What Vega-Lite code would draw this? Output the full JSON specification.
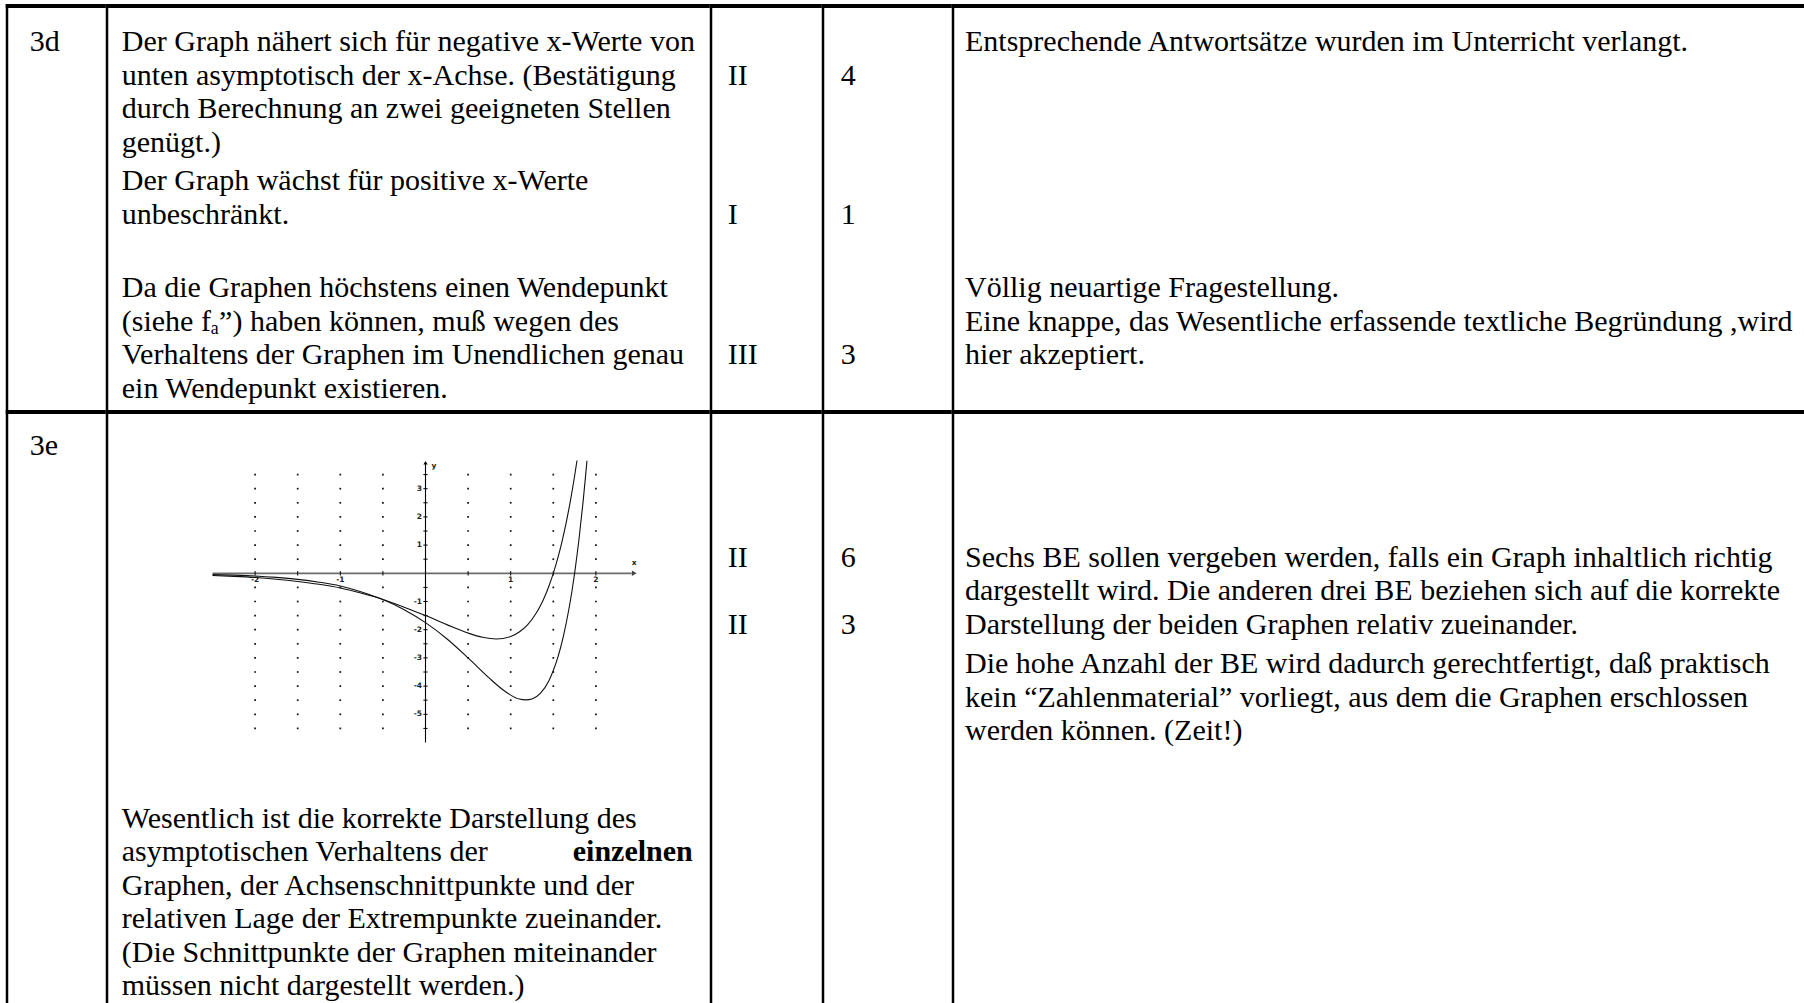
{
  "$schema": "https://vega.github.io/schema/vega-lite/v6.json",
  "background": "white",
  "padding": {"left": 5.75, "top": 4, "right": 0, "bottom": 0},
  "autosize": {"type": "pad"},
  "config": {
    "view": {"stroke": null},
    "rect": {"color": "#000000"},
    "text": {"font": "Liberation Serif", "fontSize": 30, "align": "left", "baseline": "middle", "color": "#000000"}
  },
  "spacing": 0,
  "vconcat": [
    {
      "spacing": 0,
      "bounds": "flush",
      "hconcat": [
        {
          "width": 100, "height": 406,
          "data": {"values": [{"line": 0, "text": "3d"}]},
          "layer": [
            {"data": {"values": [{}]}, "mark": "rect", "encoding": {"x": {"value": 0}, "x2": {"value": 100}, "y": {"value": 0}, "y2": {"value": 4}}},
            {"data": {"values": [{}]}, "mark": "rect", "encoding": {"x": {"value": 0}, "x2": {"value": 2.5}, "y": {"value": 0}, "y2": {"value": 406}}},
            {"mark": "text", "encoding": {"x": {"value": 24}, "y": {"field": "line", "type": "quantitative", "scale": {"domain": [0, 10], "range": [38, 373], "nice": false, "zero": false}, "axis": null}, "text": {"field": "text"}}}
          ]
        },
        {
          "width": 604, "height": 406,
          "data": {"values": [
            {"line": 0, "text": "Der Graph nähert sich für negative x-Werte von"},
            {"line": 1, "text": "unten asymptotisch der x-Achse. (Bestätigung"},
            {"line": 2, "text": "durch Berechnung an zwei geeigneten Stellen"},
            {"line": 3, "text": "genügt.)"},
            {"line": 4.15, "text": "Der Graph wächst für positive x-Werte"},
            {"line": 5.15, "text": "unbeschränkt."},
            {"line": 7.35, "text": "Da die Graphen höchstens einen Wendepunkt"},
            {"line": 8.35, "text": "(siehe fₐ”) haben können, muß wegen des"},
            {"line": 9.35, "text": "Verhaltens der Graphen im Unendlichen genau"},
            {"line": 10.35, "text": "ein Wendepunkt existieren."}
          ]},
          "layer": [
            {"data": {"values": [{}]}, "mark": "rect", "encoding": {"x": {"value": 0}, "x2": {"value": 604}, "y": {"value": 0}, "y2": {"value": 4}}},
            {"data": {"values": [{}]}, "mark": "rect", "encoding": {"x": {"value": 0}, "x2": {"value": 2.5}, "y": {"value": 0}, "y2": {"value": 406}}},
            {"mark": {"type": "text", "limit": 585}, "encoding": {"x": {"value": 16}, "y": {"field": "line", "type": "quantitative", "scale": {"domain": [0, 10], "range": [38, 373], "nice": false, "zero": false}, "axis": null}, "text": {"field": "text"}}}
          ]
        },
        {
          "width": 112, "height": 406,
          "data": {"values": [{"line": 1, "text": "II"}, {"line": 5.15, "text": "I"}, {"line": 9.35, "text": "III"}]},
          "layer": [
            {"data": {"values": [{}]}, "mark": "rect", "encoding": {"x": {"value": 0}, "x2": {"value": 112}, "y": {"value": 0}, "y2": {"value": 4}}},
            {"data": {"values": [{}]}, "mark": "rect", "encoding": {"x": {"value": 0}, "x2": {"value": 2.5}, "y": {"value": 0}, "y2": {"value": 406}}},
            {"mark": "text", "encoding": {"x": {"value": 18}, "y": {"field": "line", "type": "quantitative", "scale": {"domain": [0, 10], "range": [38, 373], "nice": false, "zero": false}, "axis": null}, "text": {"field": "text"}}}
          ]
        },
        {
          "width": 130, "height": 406,
          "data": {"values": [{"line": 1, "text": "4"}, {"line": 5.15, "text": "1"}, {"line": 9.35, "text": "3"}]},
          "layer": [
            {"data": {"values": [{}]}, "mark": "rect", "encoding": {"x": {"value": 0}, "x2": {"value": 130}, "y": {"value": 0}, "y2": {"value": 4}}},
            {"data": {"values": [{}]}, "mark": "rect", "encoding": {"x": {"value": 0}, "x2": {"value": 2.5}, "y": {"value": 0}, "y2": {"value": 406}}},
            {"mark": "text", "encoding": {"x": {"value": 19}, "y": {"field": "line", "type": "quantitative", "scale": {"domain": [0, 10], "range": [38, 373], "nice": false, "zero": false}, "axis": null}, "text": {"field": "text"}}}
          ]
        },
        {
          "width": 852.25, "height": 406,
          "data": {"values": [
            {"line": 0, "text": "Entsprechende Antwortsätze wurden im Unterricht verlangt."},
            {"line": 7.35, "text": "Völlig neuartige Fragestellung."},
            {"line": 8.35, "text": "Eine knappe, das Wesentliche erfassende textliche Begründung ,wird"},
            {"line": 9.35, "text": "hier akzeptiert."}
          ]},
          "layer": [
            {"data": {"values": [{}]}, "mark": "rect", "encoding": {"x": {"value": 0}, "x2": {"value": 852.25}, "y": {"value": 0}, "y2": {"value": 4}}},
            {"data": {"values": [{}]}, "mark": "rect", "encoding": {"x": {"value": 0}, "x2": {"value": 2.5}, "y": {"value": 0}, "y2": {"value": 406}}},
            {"mark": {"type": "text", "limit": 834}, "encoding": {"x": {"value": 13.25}, "y": {"field": "line", "type": "quantitative", "scale": {"domain": [0, 10], "range": [38, 373], "nice": false, "zero": false}, "axis": null}, "text": {"field": "text"}}}
          ]
        }
      ]
    },
    {
      "spacing": 0,
      "bounds": "flush",
      "hconcat": [
        {
          "width": 100, "height": 593,
          "data": {"values": [{"line": 0, "text": "3e"}]},
          "layer": [
            {"data": {"values": [{}]}, "mark": "rect", "encoding": {"x": {"value": 0}, "x2": {"value": 100}, "y": {"value": 0}, "y2": {"value": 4}}},
            {"data": {"values": [{}]}, "mark": "rect", "encoding": {"x": {"value": 0}, "x2": {"value": 2.5}, "y": {"value": 0}, "y2": {"value": 593}}},
            {"mark": "text", "encoding": {"x": {"value": 24}, "y": {"field": "line", "type": "quantitative", "scale": {"domain": [0, 10], "range": [36, 371], "nice": false, "zero": false}, "axis": null}, "text": {"field": "text"}}}
          ]
        },
        {
          "width": 604, "height": 593,
          "resolve": {"scale": {"x": "independent", "y": "independent"}},
          "layer": [
            {"data": {"values": [{}]}, "mark": "rect", "encoding": {"x": {"value": 0}, "x2": {"value": 604}, "y": {"value": 0}, "y2": {"value": 4}}},
            {"data": {"values": [{}]}, "mark": "rect", "encoding": {"x": {"value": 0}, "x2": {"value": 2.5}, "y": {"value": 0}, "y2": {"value": 593}}},
            {
              "data": {"values": [
                {"line": 11.13, "text": "Wesentlich ist die korrekte Darstellung des"},
                {"line": 12.13, "text": "asymptotischen Verhaltens der"},
                {"line": 13.13, "text": "Graphen, der Achsenschnittpunkte und der"},
                {"line": 14.13, "text": "relativen Lage der Extrempunkte zueinander."},
                {"line": 15.13, "text": "(Die Schnittpunkte der Graphen miteinander"},
                {"line": 16.13, "text": "müssen nicht dargestellt werden.)"}
              ]},
              "mark": {"type": "text", "limit": 585},
              "encoding": {"x": {"value": 16}, "y": {"field": "line", "type": "quantitative", "scale": {"domain": [0, 10], "range": [36, 371], "nice": false, "zero": false}, "axis": null}, "text": {"field": "text"}}
            },
            {
              "data": {"values": [{"line": 12.13, "text": "einzelnen"}]},
              "mark": {"type": "text", "fontWeight": "bold", "align": "right"},
              "encoding": {"x": {"value": 587}, "y": {"field": "line", "type": "quantitative", "scale": {"domain": [0, 10], "range": [36, 371], "nice": false, "zero": false}, "axis": null}, "text": {"field": "text"}}
            },
            {
              "layer": [
                {
                  "data": {"values": [
                    {"gx":-2,"gy":3.5},{"gx":-2,"gy":3},{"gx":-2,"gy":2.5},{"gx":-2,"gy":2},{"gx":-2,"gy":1.5},{"gx":-2,"gy":1},{"gx":-2,"gy":0.5},{"gx":-2,"gy":-0.5},{"gx":-2,"gy":-1},{"gx":-2,"gy":-1.5},{"gx":-2,"gy":-2},{"gx":-2,"gy":-2.5},{"gx":-2,"gy":-3},{"gx":-2,"gy":-3.5},{"gx":-2,"gy":-4},{"gx":-2,"gy":-4.5},{"gx":-2,"gy":-5},{"gx":-2,"gy":-5.5},
                    {"gx":-1.5,"gy":3.5},{"gx":-1.5,"gy":3},{"gx":-1.5,"gy":2.5},{"gx":-1.5,"gy":2},{"gx":-1.5,"gy":1.5},{"gx":-1.5,"gy":1},{"gx":-1.5,"gy":0.5},{"gx":-1.5,"gy":-0.5},{"gx":-1.5,"gy":-1},{"gx":-1.5,"gy":-1.5},{"gx":-1.5,"gy":-2},{"gx":-1.5,"gy":-2.5},{"gx":-1.5,"gy":-3},{"gx":-1.5,"gy":-3.5},{"gx":-1.5,"gy":-4},{"gx":-1.5,"gy":-4.5},{"gx":-1.5,"gy":-5},{"gx":-1.5,"gy":-5.5},
                    {"gx":-1,"gy":3.5},{"gx":-1,"gy":3},{"gx":-1,"gy":2.5},{"gx":-1,"gy":2},{"gx":-1,"gy":1.5},{"gx":-1,"gy":1},{"gx":-1,"gy":0.5},{"gx":-1,"gy":-0.5},{"gx":-1,"gy":-1},{"gx":-1,"gy":-1.5},{"gx":-1,"gy":-2},{"gx":-1,"gy":-2.5},{"gx":-1,"gy":-3},{"gx":-1,"gy":-3.5},{"gx":-1,"gy":-4},{"gx":-1,"gy":-4.5},{"gx":-1,"gy":-5},{"gx":-1,"gy":-5.5},
                    {"gx":-0.5,"gy":3.5},{"gx":-0.5,"gy":3},{"gx":-0.5,"gy":2.5},{"gx":-0.5,"gy":2},{"gx":-0.5,"gy":1.5},{"gx":-0.5,"gy":1},{"gx":-0.5,"gy":0.5},{"gx":-0.5,"gy":-0.5},{"gx":-0.5,"gy":-1},{"gx":-0.5,"gy":-1.5},{"gx":-0.5,"gy":-2},{"gx":-0.5,"gy":-2.5},{"gx":-0.5,"gy":-3},{"gx":-0.5,"gy":-3.5},{"gx":-0.5,"gy":-4},{"gx":-0.5,"gy":-4.5},{"gx":-0.5,"gy":-5},{"gx":-0.5,"gy":-5.5},
                    {"gx":0.5,"gy":3.5},{"gx":0.5,"gy":3},{"gx":0.5,"gy":2.5},{"gx":0.5,"gy":2},{"gx":0.5,"gy":1.5},{"gx":0.5,"gy":1},{"gx":0.5,"gy":0.5},{"gx":0.5,"gy":-0.5},{"gx":0.5,"gy":-1},{"gx":0.5,"gy":-1.5},{"gx":0.5,"gy":-2},{"gx":0.5,"gy":-2.5},{"gx":0.5,"gy":-3},{"gx":0.5,"gy":-3.5},{"gx":0.5,"gy":-4},{"gx":0.5,"gy":-4.5},{"gx":0.5,"gy":-5},{"gx":0.5,"gy":-5.5},
                    {"gx":1,"gy":3.5},{"gx":1,"gy":3},{"gx":1,"gy":2.5},{"gx":1,"gy":2},{"gx":1,"gy":1.5},{"gx":1,"gy":1},{"gx":1,"gy":0.5},{"gx":1,"gy":-0.5},{"gx":1,"gy":-1},{"gx":1,"gy":-1.5},{"gx":1,"gy":-2},{"gx":1,"gy":-2.5},{"gx":1,"gy":-3},{"gx":1,"gy":-3.5},{"gx":1,"gy":-4},{"gx":1,"gy":-4.5},{"gx":1,"gy":-5},{"gx":1,"gy":-5.5},
                    {"gx":1.5,"gy":3.5},{"gx":1.5,"gy":3},{"gx":1.5,"gy":2.5},{"gx":1.5,"gy":2},{"gx":1.5,"gy":1.5},{"gx":1.5,"gy":1},{"gx":1.5,"gy":0.5},{"gx":1.5,"gy":-0.5},{"gx":1.5,"gy":-1},{"gx":1.5,"gy":-1.5},{"gx":1.5,"gy":-2},{"gx":1.5,"gy":-2.5},{"gx":1.5,"gy":-3},{"gx":1.5,"gy":-3.5},{"gx":1.5,"gy":-4},{"gx":1.5,"gy":-4.5},{"gx":1.5,"gy":-5},{"gx":1.5,"gy":-5.5},
                    {"gx":2,"gy":3.5},{"gx":2,"gy":3},{"gx":2,"gy":2.5},{"gx":2,"gy":2},{"gx":2,"gy":1.5},{"gx":2,"gy":1},{"gx":2,"gy":0.5},{"gx":2,"gy":-0.5},{"gx":2,"gy":-1},{"gx":2,"gy":-1.5},{"gx":2,"gy":-2},{"gx":2,"gy":-2.5},{"gx":2,"gy":-3},{"gx":2,"gy":-3.5},{"gx":2,"gy":-4},{"gx":2,"gy":-4.5},{"gx":2,"gy":-5},{"gx":2,"gy":-5.5}
                  ]},
                  "mark": {"type": "square", "size": 3, "color": "#111111", "opacity": 1, "filled": true},
                  "encoding": {
                    "x": {"field": "gx", "type": "quantitative", "scale": {"domain": [-2.5, 2.5], "range": [106.75, 532.75], "nice": false, "zero": false}, "axis": null},
                    "y": {"field": "gy", "type": "quantitative", "scale": {"domain": [-6, 4], "range": [332.5, 50.5], "nice": false, "zero": false}, "axis": null}
                  }
                },
                {
                  "data": {"values": [{}]},
                  "mark": {"type": "rule", "color": "#6b6b6b", "strokeWidth": 1.8},
                  "encoding": {"x": {"datum": -2.5, "type": "quantitative"}, "x2": {"datum": 2.42}, "y": {"datum": 0, "type": "quantitative"}}
                },
                {
                  "data": {"values": [{}]},
                  "mark": {"type": "rule", "color": "#000000", "strokeWidth": 1.1},
                  "encoding": {"x": {"datum": 0, "type": "quantitative"}, "y": {"datum": -6, "type": "quantitative"}, "y2": {"datum": 3.9}}
                },
                {
                  "data": {"values": [{}]},
                  "mark": {"type": "point", "shape": "triangle-right", "size": 30, "filled": true, "color": "#444444", "opacity": 1},
                  "encoding": {"x": {"datum": 2.45, "type": "quantitative"}, "y": {"datum": 0, "type": "quantitative"}}
                },
                {
                  "data": {"values": [{}]},
                  "mark": {"type": "point", "shape": "triangle-up", "size": 18, "filled": true, "color": "#000000", "opacity": 1},
                  "encoding": {"x": {"datum": 0, "type": "quantitative"}, "y": {"datum": 3.92, "type": "quantitative"}}
                },
                {
                  "data": {"values": [{"gx": -2}, {"gx": -1.5}, {"gx": -1}, {"gx": -0.5}, {"gx": 0.5}, {"gx": 1}, {"gx": 1.5}, {"gx": 2}]},
                  "mark": {"type": "rule", "color": "#000000", "strokeWidth": 1},
                  "encoding": {"x": {"field": "gx", "type": "quantitative"}, "y": {"datum": -0.08, "type": "quantitative"}, "y2": {"datum": 0.08}}
                },
                {
                  "data": {"values": [{"gy": 3.5}, {"gy": 3}, {"gy": 2.5}, {"gy": 2}, {"gy": 1.5}, {"gy": 1}, {"gy": 0.5}, {"gy": -0.5}, {"gy": -1}, {"gy": -1.5}, {"gy": -2}, {"gy": -2.5}, {"gy": -3}, {"gy": -3.5}, {"gy": -4}, {"gy": -4.5}, {"gy": -5}, {"gy": -5.5}]},
                  "mark": {"type": "rule", "color": "#000000", "strokeWidth": 1},
                  "encoding": {"y": {"field": "gy", "type": "quantitative"}, "x": {"datum": -0.025, "type": "quantitative"}, "x2": {"datum": 0.025}}
                },
                {
                  "data": {"values": [{"gx": -2, "lab": "-2"}, {"gx": -1, "lab": "-1"}, {"gx": 1, "lab": "1"}, {"gx": 2, "lab": "2"}]},
                  "mark": {"type": "text", "font": "DejaVu Sans", "fontSize": 7.5, "fontWeight": "bold", "align": "center", "baseline": "top", "dy": 2.5, "color": "#222222"},
                  "encoding": {"x": {"field": "gx", "type": "quantitative"}, "y": {"datum": 0, "type": "quantitative"}, "text": {"field": "lab"}}
                },
                {
                  "data": {"values": [{"gy": 3, "lab": "3"}, {"gy": 2, "lab": "2"}, {"gy": 1, "lab": "1"}, {"gy": -1, "lab": "-1"}, {"gy": -2, "lab": "-2"}, {"gy": -3, "lab": "-3"}, {"gy": -4, "lab": "-4"}, {"gy": -5, "lab": "-5"}]},
                  "mark": {"type": "text", "font": "DejaVu Sans", "fontSize": 7.5, "fontWeight": "bold", "align": "right", "baseline": "middle", "dx": -3.5, "color": "#222222"},
                  "encoding": {"x": {"datum": 0, "type": "quantitative"}, "y": {"field": "gy", "type": "quantitative"}, "text": {"field": "lab"}}
                },
                {
                  "data": {"values": [{"gx": 2.45, "gy": 0.35, "lab": "x"}, {"gx": 0.1, "gy": 3.8, "lab": "y"}]},
                  "mark": {"type": "text", "font": "DejaVu Sans", "fontSize": 7.5, "fontWeight": "bold", "align": "center", "baseline": "middle", "color": "#222222"},
                  "encoding": {"x": {"field": "gx", "type": "quantitative"}, "y": {"field": "gy", "type": "quantitative"}, "text": {"field": "lab"}}
                },
                {
                  "data": {"values": [
                    {"f":"A","gx":-2.5,"gy":-0.08},{"f":"A","gx":-2.25,"gy":-0.11},{"f":"A","gx":-2,"gy":-0.15},{"f":"A","gx":-1.75,"gy":-0.21},{"f":"A","gx":-1.5,"gy":-0.29},{"f":"A","gx":-1.25,"gy":-0.39},{"f":"A","gx":-1,"gy":-0.52},{"f":"A","gx":-0.75,"gy":-0.71},{"f":"A","gx":-0.5,"gy":-0.93},{"f":"A","gx":-0.25,"gy":-1.2},{"f":"A","gx":0,"gy":-1.5},{"f":"A","gx":0.25,"gy":-1.82},{"f":"A","gx":0.5,"gy":-2.12},{"f":"A","gx":0.67,"gy":-2.27},{"f":"A","gx":0.83,"gy":-2.33},{"f":"A","gx":1,"gy":-2.24},{"f":"A","gx":1.1,"gy":-2.08},{"f":"A","gx":1.2,"gy":-1.82},{"f":"A","gx":1.3,"gy":-1.41},{"f":"A","gx":1.35,"gy":-1.14},{"f":"A","gx":1.4,"gy":-0.82},{"f":"A","gx":1.45,"gy":-0.44},{"f":"A","gx":1.5,"gy":0},{"f":"A","gx":1.55,"gy":0.51},{"f":"A","gx":1.6,"gy":1.1},{"f":"A","gx":1.65,"gy":1.78},{"f":"A","gx":1.7,"gy":2.56},{"f":"A","gx":1.75,"gy":3.45},{"f":"A","gx":1.778,"gy":4.0},
                    {"f":"B","gx":-2.5,"gy":-0.045},{"f":"B","gx":-2.25,"gy":-0.065},{"f":"B","gx":-2,"gy":-0.095},{"f":"B","gx":-1.75,"gy":-0.145},{"f":"B","gx":-1.5,"gy":-0.215},{"f":"B","gx":-1.25,"gy":-0.315},{"f":"B","gx":-1,"gy":-0.45},{"f":"B","gx":-0.75,"gy":-0.66},{"f":"B","gx":-0.5,"gy":-0.93},{"f":"B","gx":-0.25,"gy":-1.29},{"f":"B","gx":0,"gy":-1.75},{"f":"B","gx":0.25,"gy":-2.32},{"f":"B","gx":0.5,"gy":-3.0},{"f":"B","gx":0.75,"gy":-3.72},{"f":"B","gx":0.9,"gy":-4.11},{"f":"B","gx":1,"gy":-4.32},{"f":"B","gx":1.1,"gy":-4.46},{"f":"B","gx":1.18,"gy":-4.49},{"f":"B","gx":1.25,"gy":-4.46},{"f":"B","gx":1.35,"gy":-4.25},{"f":"B","gx":1.45,"gy":-3.8},{"f":"B","gx":1.55,"gy":-3.01},{"f":"B","gx":1.585,"gy":-2.64},{"f":"B","gx":1.62,"gy":-2.21},{"f":"B","gx":1.68,"gy":-1.32},{"f":"B","gx":1.72,"gy":-0.61},{"f":"B","gx":1.75,"gy":0},{"f":"B","gx":1.8,"gy":1.17},{"f":"B","gx":1.85,"gy":2.55},{"f":"B","gx":1.88,"gy":3.49},{"f":"B","gx":1.895,"gy":3.99}
                  ]},
                  "mark": {"type": "line", "color": "#111111", "strokeWidth": 1.1, "interpolate": "monotone"},
                  "encoding": {"x": {"field": "gx", "type": "quantitative"}, "y": {"field": "gy", "type": "quantitative"}, "detail": {"field": "f", "type": "nominal"}}
                }
              ]
            }
          ]
        },
        {
          "width": 112, "height": 593,
          "data": {"values": [{"line": 3.34, "text": "II"}, {"line": 5.34, "text": "II"}]},
          "layer": [
            {"data": {"values": [{}]}, "mark": "rect", "encoding": {"x": {"value": 0}, "x2": {"value": 112}, "y": {"value": 0}, "y2": {"value": 4}}},
            {"data": {"values": [{}]}, "mark": "rect", "encoding": {"x": {"value": 0}, "x2": {"value": 2.5}, "y": {"value": 0}, "y2": {"value": 593}}},
            {"mark": "text", "encoding": {"x": {"value": 18}, "y": {"field": "line", "type": "quantitative", "scale": {"domain": [0, 10], "range": [36, 371], "nice": false, "zero": false}, "axis": null}, "text": {"field": "text"}}}
          ]
        },
        {
          "width": 130, "height": 593,
          "data": {"values": [{"line": 3.34, "text": "6"}, {"line": 5.34, "text": "3"}]},
          "layer": [
            {"data": {"values": [{}]}, "mark": "rect", "encoding": {"x": {"value": 0}, "x2": {"value": 130}, "y": {"value": 0}, "y2": {"value": 4}}},
            {"data": {"values": [{}]}, "mark": "rect", "encoding": {"x": {"value": 0}, "x2": {"value": 2.5}, "y": {"value": 0}, "y2": {"value": 593}}},
            {"mark": "text", "encoding": {"x": {"value": 19}, "y": {"field": "line", "type": "quantitative", "scale": {"domain": [0, 10], "range": [36, 371], "nice": false, "zero": false}, "axis": null}, "text": {"field": "text"}}}
          ]
        },
        {
          "width": 852.25, "height": 593,
          "data": {"values": [
            {"line": 3.34, "text": "Sechs BE sollen vergeben werden, falls ein Graph inhaltlich richtig"},
            {"line": 4.34, "text": "dargestellt wird. Die anderen drei BE beziehen sich auf die korrekte"},
            {"line": 5.34, "text": "Darstellung der beiden Graphen relativ zueinander."},
            {"line": 6.51, "text": "Die hohe Anzahl der BE wird dadurch gerechtfertigt, daß praktisch"},
            {"line": 7.51, "text": "kein “Zahlenmaterial” vorliegt, aus dem die Graphen erschlossen"},
            {"line": 8.51, "text": "werden können. (Zeit!)"}
          ]},
          "layer": [
            {"data": {"values": [{}]}, "mark": "rect", "encoding": {"x": {"value": 0}, "x2": {"value": 852.25}, "y": {"value": 0}, "y2": {"value": 4}}},
            {"data": {"values": [{}]}, "mark": "rect", "encoding": {"x": {"value": 0}, "x2": {"value": 2.5}, "y": {"value": 0}, "y2": {"value": 593}}},
            {"mark": {"type": "text", "limit": 834}, "encoding": {"x": {"value": 13.25}, "y": {"field": "line", "type": "quantitative", "scale": {"domain": [0, 10], "range": [36, 371], "nice": false, "zero": false}, "axis": null}, "text": {"field": "text"}}}
          ]
        }
      ]
    }
  ]
}
